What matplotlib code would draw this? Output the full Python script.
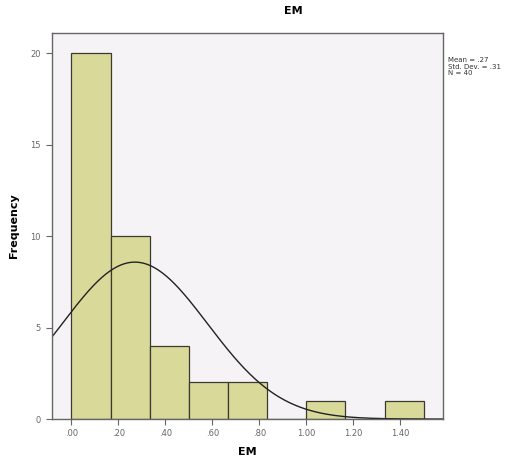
import numpy as np
import matplotlib
matplotlib.use("Agg")
import matplotlib.pyplot as plt

# histogram data (bins of width 1/6)
bin_edges = [0.0, 1/6, 2/6, 3/6, 4/6, 5/6, 1.0, 7/6, 8/6, 9/6]
counts = [20, 10, 4, 2, 2, 0, 1, 0, 1]
mean_val = 0.27
sd_val = 0.31
n_val = 40
xticks = [0.0, 0.2, 0.4, 0.6, 0.8, 1.0, 1.2, 1.4]
xtick_labels = [".00", ".20", ".40", ".60", ".80", "1.00", "1.20", "1.40"]
yticks = [0, 5, 10, 15, 20]

fig = plt.figure(figsize=(5.15, 4.59), dpi=100)
ax = fig.add_axes([0.100, 0.087, 0.760, 0.841])
ax.set_facecolor("#f5f3f5")

lefts = np.array(bin_edges[:-1])
widths = np.diff(bin_edges)
ax.bar(lefts, counts, width=widths, align="edge", color="#d9da9a",
       edgecolor="#3a3a30", linewidth=0.9)

# normal curve
x = np.linspace(-0.1, 1.6, 300)
bw = bin_edges[1] - bin_edges[0]
y = n_val * bw / (sd_val * np.sqrt(2 * np.pi)) * np.exp(-0.5 * ((x - mean_val) / sd_val) ** 2)
ax.plot(x, y, color="#222222", linewidth=1.0)

ax.set_xlim(-0.085, 1.582)
ax.set_ylim(0, 21.1)
ax.set_xticks(xticks)
ax.set_xticklabels(xtick_labels)
ax.set_yticks(yticks)
ax.tick_params(axis="both", labelsize=6, colors="#666666", length=4, width=0.8,
               direction="out")
for s in ax.spines.values():
    s.set_color("#666666")
    s.set_linewidth(1.0)

ax.set_xlabel("EM", fontsize=8, fontweight="bold", labelpad=6)
ax.set_ylabel("Frequency", fontsize=8, fontweight="bold", labelpad=8)
fig.text(0.57, 0.975, "EM", ha="center", va="center", fontsize=8, fontweight="bold")

fig.text(0.870, 0.875, "Mean = .27\nStd. Dev. = .31\nN = 40", ha="left", va="top",
         fontsize=5, color="#333333", linespacing=1.1)

plt.savefig("out.png", dpi=100)
